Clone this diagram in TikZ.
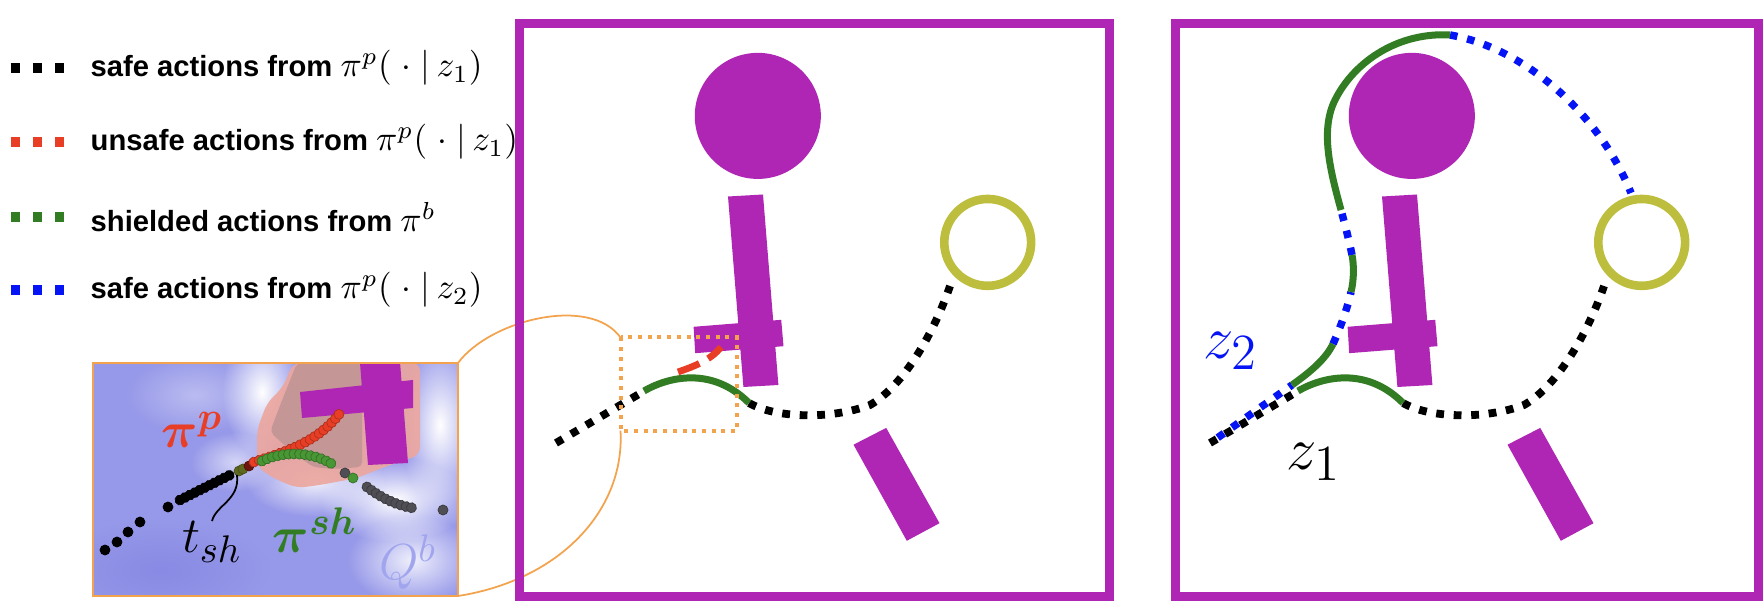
\documentclass[tikz,border=0pt]{standalone}
\usepackage{fontspec}
\setsansfont{Liberation Sans}
\usepackage{amsmath}
\usepackage{tikz}
\usetikzlibrary{calc,decorations.markings,fadings}

\definecolor{obstacle}{RGB}{175,38,180}
\definecolor{goal}{RGB}{190,190,62}
\definecolor{unsafe}{RGB}{232,62,38}
\definecolor{shield}{RGB}{50,125,35}
\definecolor{safetwo}{RGB}{5,20,245}
\definecolor{zoomline}{RGB}{243,163,78}
\definecolor{qblue}{RGB}{150,152,233}
\definecolor{qdeep}{RGB}{136,138,228}
\definecolor{qlabel}{RGB}{160,165,238}
\definecolor{qred}{RGB}{236,166,158}
\definecolor{qcore}{RGB}{196,150,150}
\definecolor{beadgreen}{RGB}{72,150,52}
\definecolor{beadolive}{RGB}{95,105,30}
\definecolor{beaddark}{RGB}{110,20,15}
\definecolor{beadgray}{RGB}{78,78,84}

\tikzfading[name=blobfade, inner color=transparent!0, outer color=transparent!100]

\tikzset{
  safepath/.style={draw=black, line width=0.078cm, dash pattern=on 0.078cm off 0.097cm},
  altpath/.style={draw=safetwo, line width=0.075cm, dash pattern=on 0.075cm off 0.1cm},
  shieldpath/.style={draw=shield, line width=0.07cm},
  unsafepath/.style={draw=unsafe, line width=0.068cm, dash pattern=on 0.23cm off 0.1cm},
  legdots/.style={line width=0.093cm, dash pattern=on 0.093cm off 0.129cm},
  legtext/.style={anchor=west, inner sep=0pt, font=\sffamily\bfseries\fontsize{8.3}{10}\selectfont},
  beads/.style={decoration={markings, mark=between positions 0 and 1 step 0.055cm with {\filldraw[fill=#1, draw=#1!75!black, line width=0.2pt] (0,0) circle[radius=0.05cm];}}, decorate},
  bead/.style={fill=#1, draw=#1!75!black, line width=0.2pt},
  biglabel/.style={inner sep=0pt, font=\fontsize{15}{18}\selectfont},
  zlabel/.style={inner sep=0pt, font=\fontsize{19}{22}\selectfont},
}

% obstacles and goal of one panel
\newcommand{\drawobstacles}{%
  \fill[obstacle] (757.8,115.9) circle[radius=0.63cm];
  \fill[obstacle] (728,196.5) -- (763,194.5) -- (778.4,385) -- (743.4,387) -- cycle;
  \fill[obstacle] (693.6,326.8) -- (781.2,319.8) -- (783.5,346.2) -- (695.2,353.2) -- cycle;
  \fill[obstacle] (853.5,444.7) -- (886.2,427.9) -- (939.5,523.2) -- (906.8,540.8) -- cycle;
  \draw[goal, line width=0.086cm] (987.7,242.4) circle[radius=0.434cm];
}
% trajectory of pi^p(.|z_1) with its shielded part
\newcommand{\drawfirstpath}{%
  \path[safepath] (556,443) -- (640,393.5);
  \path[safepath] (749,403) .. controls (775,418) and (830,420) .. (870,405)
    .. controls (905,385) and (935,330) .. (950,286);
  \path[shieldpath] (644,391) .. controls (668,377) and (712,366) .. (749,403);
}

\begin{document}
\begin{tikzpicture}[x=0.01cm, y=-0.01cm]
    \useasboundingbox (0,0) rectangle (1764,610);

    % Legend
    \draw[legdots, black] (10.7,68) -- (65,68);
    \node[legtext] (leg1) at (90,68) {safe actions from {\fontsize{10}{12}\selectfont$\pi^{p}(\;\cdot\;|\,z_1)$}};
    \draw[legdots, unsafe] (10.7,142) -- (65,142);
    \node[legtext] (leg2) at (90,142) {unsafe actions from {\fontsize{10}{12}\selectfont$\pi^{p}(\;\cdot\;|\,z_1)$}};
    \draw[legdots, shield] (10.7,217) -- (65,217);
    \node[legtext] (leg3) at (90,217) {shielded actions from {\fontsize{10}{12}\selectfont$\pi^{b}$}};
    \draw[legdots, safetwo] (10.7,290) -- (65,290);
    \node[legtext] (leg4) at (90,290) {safe actions from {\fontsize{10}{12}\selectfont$\pi^{p}(\;\cdot\;|\,z_2)$}};

    % Inset: value map around the shielding step
    \begin{scope}
        \clip (93,363) rectangle (458,596);
        \fill[qblue] (93,363) rectangle (458,596);
        \fill[qdeep, path fading=blobfade] (160,570) ellipse[x radius=1.1cm, y radius=0.5cm];
        \fill[white, opacity=0.35, path fading=blobfade] (195,395) ellipse[x radius=0.7cm, y radius=0.4cm];
        \fill[white, path fading=blobfade] (262,392) ellipse[x radius=0.4cm, y radius=0.65cm];
        \fill[white, opacity=0.6, path fading=blobfade] (235,462) ellipse[x radius=0.45cm, y radius=0.3cm];
        \fill[white, opacity=0.85, path fading=blobfade] (315,482) ellipse[x radius=0.7cm, y radius=0.35cm];
        \fill[white, path fading=blobfade] (440,425) ellipse[x radius=0.4cm, y radius=0.85cm];
        \fill[white, path fading=blobfade] (395,500) ellipse[x radius=0.75cm, y radius=0.42cm];
        \fill[white, opacity=0.85, path fading=blobfade] (412,560) ellipse[x radius=0.65cm, y radius=0.45cm];
        \fill[qred, opacity=0.9, rounded corners=0.08cm] (257,430) -- (267,403) -- (283,387) -- (293,363)
            -- (420,363) -- (420,455) -- (387,466) -- (357,478) -- (320,485) -- (297,488) -- (273,478) -- (257,467) -- cycle;
        \fill[qcore, rounded corners=0.05cm] (297,363) -- (362,363) -- (362,467) -- (333,469) -- (313,467)
            -- (290,450) -- (270,432) -- (281,403) -- cycle;
        \fill[obstacle] (300,392) -- (413,380) -- (413,408) -- (302,418) -- cycle;
        \fill[obstacle] (360,363) -- (400,362) -- (408,463) -- (368,465) -- cycle;
        % actions as beads
        \foreach \x/\y in {105/550, 117/542, 128/532, 140/522, 168/507}
            \filldraw[bead=black] (\x,\y) circle[radius=0.05cm];
        \path[beads=black] (180,500) -- (234,473);
        \filldraw[bead=beadolive] (239,471) circle[radius=0.05cm];
        \filldraw[bead=beadolive] (243,469) circle[radius=0.05cm];
        \filldraw[bead=beaddark] (249,466) circle[radius=0.05cm];
        \path[beads=unsafe] (254,462) .. controls (285,452) and (318,442) .. (340,413);
        \path[beads=beadgreen] (262,461) .. controls (285,450) and (315,452) .. (335,466);
        \filldraw[bead=beadgray] (345,473) circle[radius=0.05cm];
        \filldraw[bead=beadgreen] (353,478) circle[radius=0.05cm];
        \path[beads=beadgray] (367,487) .. controls (380,497) and (395,505) .. (413,508);
        \filldraw[bead=beadgray] (443,510) circle[radius=0.05cm];
    \end{scope}
    \draw[zoomline, line width=0.5pt] (93,363) rectangle (458,596);
    \coordinate (inset-ne) at (458,363);
    \coordinate (inset-se) at (458,596);
    \coordinate (tsh-pt) at (237,475);

    % Inset labels
    \node[biglabel, text=unsafe] (pip) at (192,430) {$\boldsymbol{\pi^{p}}$};
    \node[biglabel] (tsh) at (212,542) {$t_{sh}$};
    \node[biglabel, text=shield] (pish) at (315,530) {$\boldsymbol{\pi^{sh}}$};
    \node[biglabel, text=qlabel] (qb) at (408,562) {$Q^{b}$};
    \draw[black, line width=0.5pt] (tsh.north) .. controls (216,505) and (240,500) .. (tsh-pt);

    % Middle panel
    \drawobstacles
    \drawfirstpath
    \path[unsafepath] (678,372) .. controls (692,367) and (710,361) .. (721,347);
    \coordinate (box-nw) at (620.5,337.5);
    \coordinate (box-sw) at (620.5,430.7);
    \draw[zoomline, line width=0.04cm, dash pattern=on 0.04cm off 0.057cm] (box-nw) rectangle (737,430.7);
    \draw[zoomline, line width=0.5pt] (inset-ne) .. controls (490,320) and (590,295) .. (box-nw);
    \draw[zoomline, line width=0.5pt] (box-sw) .. controls (625,510) and (560,580) .. (inset-se);
    \draw[obstacle, line width=0.09cm] (519,23.3) rectangle (1109.5,596.5);

    % Right panel
    \begin{scope}[shift={(654,0)}]
        \drawobstacles
        \drawfirstpath
    \end{scope}
    \path[altpath, dash phase=0.088cm] (1210.6,442.7) -- (1292,385);
    \path[altpath] (1333,344) .. controls (1340,328) and (1347,310) .. (1351,292);
    \path[altpath] (1352,255) .. controls (1349,240) and (1345,225) .. (1341,210);
    \path[altpath] (1450,35) .. controls (1525,48) and (1600,115) .. (1631,193);
    \path[shieldpath] (1292,385) .. controls (1310,372) and (1325,360) .. (1333,344);
    \path[shieldpath] (1351,292) .. controls (1354,280) and (1354,265) .. (1352,255);
    \path[shieldpath] (1341,210) .. controls (1330,170) and (1320,130) .. (1335,100)
        .. controls (1355,60) and (1400,32) .. (1450,35);
    \node[zlabel, text=safetwo] (z2) at (1231,351) {$z_2$};
    \node[zlabel] (z1) at (1314,462) {$z_1$};
    \draw[obstacle, line width=0.09cm] (1175,23.3) rectangle (1758.5,596.5);
\end{tikzpicture}
\end{document}
